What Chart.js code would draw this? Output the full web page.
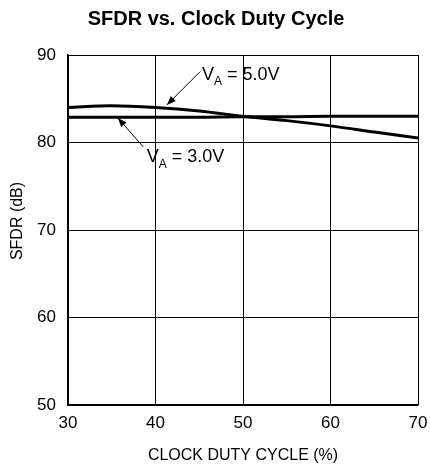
<!DOCTYPE html>
<html>
<head>
<meta charset="utf-8">
<script src="https://cdn.jsdelivr.net/npm/chart.js@4.4.1/dist/chart.umd.min.js"></script>
<style>
  html, body { margin: 0; padding: 0; background: #fff; }
  #wrap { width: 430px; height: 470px; position: relative; }
</style>
</head>
<body>
<div id="wrap"><canvas id="c" width="430" height="470"></canvas></div>
<script>
// ---- Data ----
const dutyCycle = [30, 35, 40, 45, 50, 55, 60, 65, 70];
const sfdr5V = [84.0, 84.2, 84.0, 83.6, 83.0, 82.5, 81.9, 81.2, 80.5];
const sfdr3V = [82.9, 82.9, 82.9, 82.9, 82.95, 82.95, 83.0, 83.0, 83.0];
const xTicks = [30, 40, 50, 60, 70];
const yTicks = [50, 60, 70, 80, 90];
const seriesLabels = ['5.0V', '3.0V'];

// annotation anchors in data units: label position, arrow start, arrow tip
const note5V = { text: seriesLabels[0], lx: 45.3, ly: 87.7, ax: 45.1, ay: 88.1, tx: 41.3, ty: 84.3 };
const note3V = { text: seriesLabels[1], lx: 39.0, ly: 78.3, ax: 38.6, ay: 79.5, tx: 35.7, ty: 82.8 };

const FONT = '"Liberation Sans", Arial, Helvetica, sans-serif';

function pts(xs, ys) { return xs.map((x, i) => ({ x: x, y: ys[i] })); }

const annotPlugin = {
  id: 'annot',
  afterDatasetsDraw(chart) {
    const ctx = chart.ctx;
    const xs = chart.scales.x, ys = chart.scales.y;
    ctx.save();
    [note5V, note3V].forEach(n => {
      const x0 = xs.getPixelForValue(n.ax), y0 = ys.getPixelForValue(n.ay);
      const x1 = xs.getPixelForValue(n.tx), y1 = ys.getPixelForValue(n.ty);
      ctx.strokeStyle = '#000'; ctx.fillStyle = '#000'; ctx.lineWidth = 1;
      ctx.beginPath(); ctx.moveTo(x0, y0); ctx.lineTo(x1, y1); ctx.stroke();
      const ang = Math.atan2(y1 - y0, x1 - x0);
      const L = 9, W = 3.5;
      ctx.beginPath();
      ctx.moveTo(x1, y1);
      ctx.lineTo(x1 - L * Math.cos(ang) + W * Math.sin(ang), y1 - L * Math.sin(ang) - W * Math.cos(ang));
      ctx.lineTo(x1 - L * Math.cos(ang) - W * Math.sin(ang), y1 - L * Math.sin(ang) + W * Math.cos(ang));
      ctx.closePath(); ctx.fill();
      // label
      let lx = xs.getPixelForValue(n.lx);
      const ly = ys.getPixelForValue(n.ly);
      ctx.textBaseline = 'middle'; ctx.textAlign = 'left';
      ctx.font = '18px ' + FONT;
      ctx.fillText('V', lx, ly); lx += ctx.measureText('V').width;
      ctx.font = '12px ' + FONT;
      ctx.fillText('A', lx, ly + 7); lx += ctx.measureText('A').width;
      ctx.font = '18px ' + FONT;
      ctx.fillText(' = ' + n.text, lx, ly);
    });
    // y-axis title
    ctx.font = '16px ' + FONT;
    ctx.textAlign = 'center'; ctx.textBaseline = 'middle';
    ctx.translate(18, 221);
    ctx.rotate(-Math.PI / 2);
    ctx.fillText('SFDR (dB)', 0, 0);
    ctx.restore();
  }
};

new Chart(document.getElementById('c'), {
  type: 'line',
  data: {
    datasets: [
      { label: seriesLabels[0], data: pts(dutyCycle, sfdr5V), borderColor: '#000', borderWidth: 3, pointRadius: 0, tension: 0.4, cubicInterpolationMode: 'monotone', fill: false },
      { label: seriesLabels[1], data: pts(dutyCycle, sfdr3V), borderColor: '#000', borderWidth: 3, pointRadius: 0, tension: 0.4, cubicInterpolationMode: 'monotone', fill: false }
    ]
  },
  options: {
    responsive: false,
    animation: false,
    devicePixelRatio: 1,
    layout: { autoPadding: false, padding: { left: 14, right: 12, top: 0, bottom: 0 } },
    plugins: {
      legend: { display: false },
      tooltip: { enabled: false },
      title: {
        display: true,
        text: 'SFDR vs. Clock Duty Cycle',
        color: '#000',
        font: { family: FONT, size: 20, weight: 'bold', lineHeight: 1.2 },
        padding: { top: 7, bottom: 24 }
      }
    },
    scales: {
      x: {
        type: 'linear',
        min: 30, max: 70,
        afterBuildTicks(s) { s.ticks = xTicks.map(v => ({ value: v })); },
        afterFit(s) { s.height = 65; s.paddingLeft = 0; s.paddingRight = 0; },
        ticks: { color: '#000', font: { family: FONT, size: 17 }, padding: 8, maxRotation: 0 },
        grid: { color: '#000', lineWidth: 1, drawTicks: false },
        border: { color: '#000', width: 1.5 },
        title: { display: true, text: 'CLOCK DUTY CYCLE (%)', color: '#000', font: { family: FONT, size: 16 }, padding: { top: 0, bottom: 5 } }
      },
      y: {
        min: 50, max: 90,
        afterBuildTicks(s) { s.ticks = yTicks.map(v => ({ value: v })); },
        afterFit(s) { s.width = 54; s.paddingTop = 0; s.paddingBottom = 0; },
        ticks: { color: '#000', font: { family: FONT, size: 17 }, padding: 12 },
        grid: { color: '#000', lineWidth: 1, drawTicks: false },
        border: { color: '#000', width: 1.5 }
      }
    }
  },
  plugins: [annotPlugin]
});
</script>
</body>
</html>
